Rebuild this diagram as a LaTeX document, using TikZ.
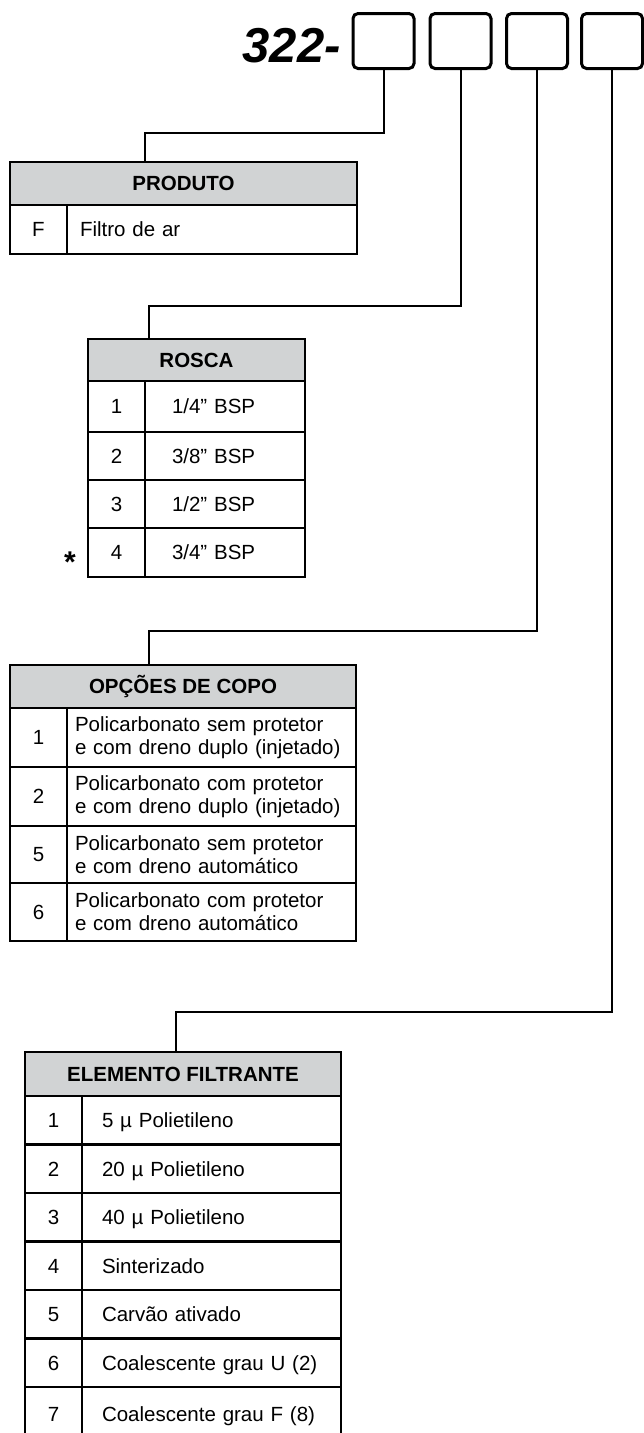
\documentclass[tikz,border=0pt]{standalone}
\usepackage{fontspec}
\setmainfont{Liberation Sans}
\usetikzlibrary{positioning}
\definecolor{headgray}{HTML}{D1D3D4}
\tikzset
{
    codebox/.style  = {rectangle, rounded corners=5pt, draw=black, line width=3pt, minimum width=61pt, minimum height=55pt, outer sep=0pt},
    headcell/.style = {rectangle, draw=black, fill=headgray, line width=2.6pt, outer sep=0pt, inner sep=0pt, anchor=north west, font=\fontsize{20.5}{22}\selectfont\bfseries},
    numcell/.style  = {rectangle, draw=black, line width=2.6pt, outer sep=0pt, inner sep=0pt, anchor=north west, text height=14.7pt, text depth=0pt, font=\fontsize{20.5}{22}\selectfont},
    textcell/.style = {rectangle, draw=black, line width=2.6pt, outer sep=0pt, inner ysep=0pt, anchor=north west, align=left, font=\fontsize{20.5}{23}\selectfont},
    link/.style     = {draw=black, line width=2pt}
}

\begin{document}
\begin{tikzpicture}[x=1pt, y=-1pt]
    \useasboundingbox (0,0) rectangle (644,1433);
    \clip (0,0) rectangle (644,1433);

    % code and its four boxes
    \node [anchor=base east, inner sep=0pt, font=\fontsize{49}{49}\selectfont\bfseries\itshape] (code) at (341,62) {322-};
    \node [codebox] (b1) at (383.5,41) {};
    \node [codebox] (b2) at (460.5,41) {};
    \node [codebox] (b3) at (537,41) {};
    \node [codebox] (b4) at (612,41) {};

    % PRODUTO
    \node [headcell, minimum width=347, minimum height=43] (prodhead) at (10,162) {PRODUTO};
    \node [numcell, minimum width=57, minimum height=49] (prodnum) at (10,205) {F};
    \node [textcell, minimum width=290, minimum height=49, text width=264, inner xsep=13, text height=14.7pt, text depth=0pt] (prodtxt) at (67,205) {Filtro de ar};

    % ROSCA
    \node [headcell, minimum width=217, minimum height=42] (roscahead) at (88,339) {ROSCA};
    \foreach \num/\txt/\rowy/\rowh [count=\i] in {1/{1/4” BSP}/381/51, 2/{3/8” BSP}/432/48, 3/{1/2” BSP}/480/48, 4/{3/4” BSP}/528/49}
    {
        \node [numcell, minimum width=57, minimum height=\rowh] (roscanum\i) at (88,\rowy) {\num};
        \node [textcell, minimum width=160, minimum height=\rowh, text width=106, inner xsep=27, text height=14.7pt, text depth=0pt] (roscatxt\i) at (145,\rowy) {\txt};
    }
    \node [anchor=base, inner sep=0pt, font=\fontsize{30}{30}\selectfont\bfseries] (star) at (70,572) {*};

    % OPCOES DE COPO
    \node [headcell, minimum width=346, minimum height=43] (copohead) at (10,665) {OPÇÕES DE COPO};
    \foreach \num/\txta/\txtb/\rowy/\rowh [count=\i] in {1/{Policarbonato sem protetor}/{e com dreno duplo (injetado)}/708/59, 2/{Policarbonato com protetor}/{e com dreno duplo (injetado)}/767/59, 5/{Policarbonato sem protetor}/{e com dreno automático}/826/57, 6/{Policarbonato com protetor}/{e com dreno automático}/883/58}
    {
        \node [numcell, minimum width=57, minimum height=\rowh] (coponum\i) at (10,\rowy) {\num};
        \node [textcell, minimum width=289, minimum height=\rowh, text width=273, inner xsep=8] (copotxt\i) at (67,\rowy) {\txta\\\txtb};
    }

    % ELEMENTO FILTRANTE
    \node [headcell, minimum width=316, minimum height=44] (filthead) at (25,1052) {ELEMENTO FILTRANTE};
    \foreach \num/\txt/\rowy/\rowh [count=\i] in {1/{5 µ Polietileno}/1096/48.5, 2/{20 µ Polietileno}/1144.5/48.5, 3/{40 µ Polietileno}/1193/48.5, 4/{Sinterizado}/1241.5/48.5, 5/{Carvão ativado}/1290/48.5, 6/{Coalescente grau U (2)}/1338.5/48.5, 7/{Coalescente grau F (8)}/1387/55}
    {
        \node [numcell, minimum width=57, minimum height=\rowh] (filtnum\i) at (25,\rowy) {\num};
        \node [textcell, minimum width=259, minimum height=\rowh, text width=219, inner xsep=20, text height=14.7pt, text depth=0pt] (filttxt\i) at (82,\rowy) {\txt};
    }

    % links from the boxes down to the tables
    \coordinate (k1) at (145,133);
    \coordinate (k2) at (149,306);
    \coordinate (k3) at (149,631);
    \coordinate (k4) at (176,1012);
    \draw [link] (b1.south) |- (k1) -- (k1 |- prodhead.north);
    \draw [link] (b2.south) |- (k2) -- (k2 |- roscahead.north);
    \draw [link] (b3.south) |- (k3) -- (k3 |- copohead.north);
    \draw [link] (b4.south) |- (k4) -- (k4 |- filthead.north);
\end{tikzpicture}
\end{document}
